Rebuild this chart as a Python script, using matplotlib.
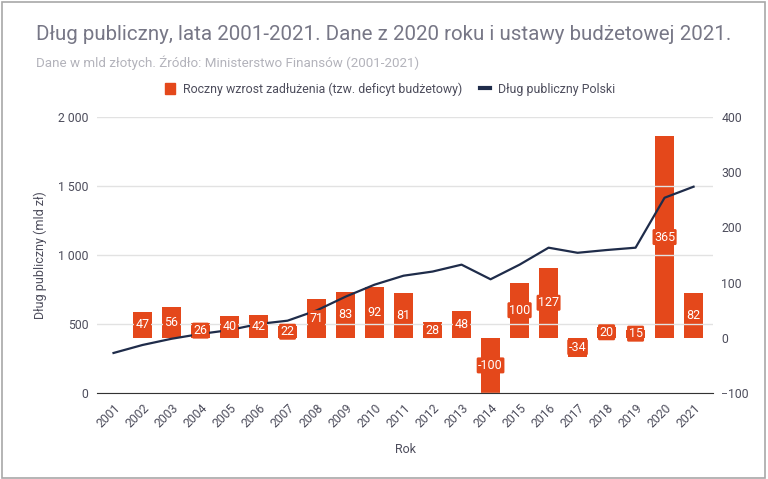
import matplotlib.pyplot as plt
from matplotlib.lines import Line2D
from matplotlib.patches import Patch, Rectangle

plt.rcParams['font.family'] = ['Roboto', 'DejaVu Sans']

years = list(range(2001, 2022))
debt = [290, 348, 393, 428, 456, 500, 524, 598, 698, 785, 850, 880, 930, 824,
        930, 1053, 1016, 1036, 1053, 1415, 1495]
growth_years = list(range(2002, 2022))
growth = [47, 56, 26, 40, 42, 22, 71, 83, 92, 81, 28, 48, -100, 100, 127, -34,
          20, 15, 365, 82]

bar_color = '#e4481b'
line_color = '#1f2c4a'
text_color = '#4d4d5c'
grid_color = '#e2e2e2'

fig = plt.figure(figsize=(7.68, 4.79), dpi=100)
fig.patches.append(Rectangle((0.003, 0.003), 0.993, 0.993, transform=fig.transFigure,
                             fill=False, edgecolor='#a8a8a8', linewidth=1.2))

ax = fig.add_axes([97 / 768, 1 - 393 / 479, 616 / 768, 276 / 479])
ax2 = ax.twinx()

# left axis: debt line
ax.set_ylim(0, 2000)
ax.set_yticks([0, 500, 1000, 1500, 2000])
ax.set_yticklabels(['0', '500', '1 000', '1 500', '2 000'])
ax.grid(axis='y', color=grid_color, linewidth=1)
ax.set_axisbelow(True)
ax.set_xlim(2001 - 0.57, 2021 + 0.67)
ax.set_xticks(years)
ax.set_xticklabels([str(y) for y in years], rotation=45, ha='right',
                   rotation_mode='anchor')
ax.tick_params(axis='both', length=0, labelsize=8.8, colors=text_color, pad=6)
for s in ['top', 'right', 'left']:
    ax.spines[s].set_visible(False)
ax.spines['bottom'].set_color('#333333')
ax.set_ylabel('Dług publiczny (mld zł)', fontsize=9, color=text_color, labelpad=8)
ax.set_xlabel('Rok', fontsize=9, color=text_color, labelpad=9)

# right axis: bars
ax2.set_ylim(-100, 400)
ax2.set_yticks([-100, 0, 100, 200, 300, 400])
ax2.tick_params(axis='y', length=0, labelsize=8.8, colors=text_color, pad=6)
for s in ax2.spines.values():
    s.set_visible(False)
ax2.bar(growth_years, growth, width=0.63, color=bar_color, zorder=2)

# line drawn on top of bars
ax.set_zorder(ax2.get_zorder() + 1)
ax.patch.set_visible(False)
ax.plot(years, debt, color=line_color, linewidth=1.6, zorder=3)

# bar labels above the line
for x, v in zip(growth_years, growth):
    ax.text(x, v / 2, str(v), ha='center', va='center', color='white',
            fontsize=9, zorder=5, transform=ax2.transData,
            bbox=dict(boxstyle='round,pad=0.12', fc=bar_color, ec='none'))

fig.text(36 / 768, 1 - 40 / 479,
         'Dług publiczny, lata 2001-2021. Dane z 2020 roku i ustawy budżetowej 2021.',
         fontsize=14.8, color='#777786')
fig.text(36 / 768, 1 - 67 / 479,
         'Dane w mld złotych. Źródło: Ministerstwo Finansów (2001-2021)',
         fontsize=9.6, color='#b3b3bb')

handles = [Patch(color=bar_color),
           Line2D([0], [0], color=line_color, linewidth=3)]
labels = ['Roczny wzrost zadłużenia (tzw. deficyt budżetowy)', 'Dług publiczny Polski']
fig.legend(handles, labels, loc='center', bbox_to_anchor=(0.508, 1 - 89 / 479),
           ncol=2, frameon=False, fontsize=8.9, handlelength=0.8, handleheight=1.0,
           columnspacing=1.5, handletextpad=0.6, labelcolor=text_color)

fig.savefig('out.png', dpi=100)
